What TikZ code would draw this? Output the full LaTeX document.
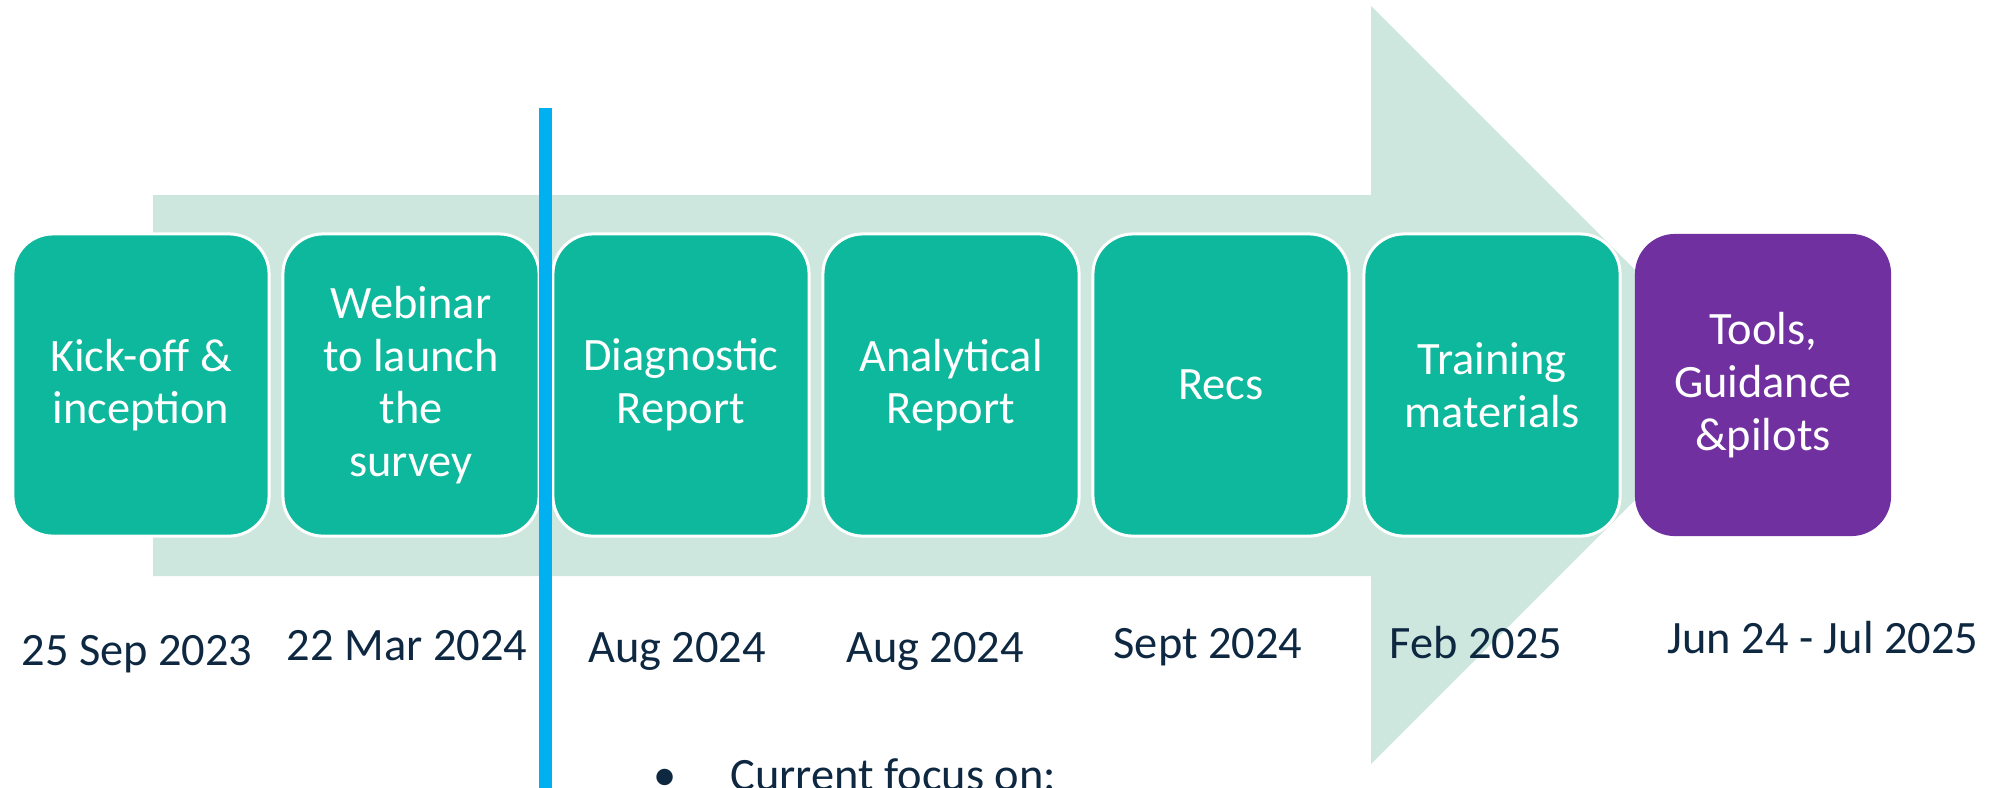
\documentclass[tikz,border=0pt]{standalone}
\usepackage{fontspec}
\setmainfont{Carlito}
\definecolor{arrowgreen}{HTML}{CDE6DE}
\definecolor{phaseteal}{HTML}{0DB89D}
\definecolor{goalpurple}{HTML}{7030A0}
\definecolor{nowblue}{HTML}{00B0F0}
\definecolor{datenavy}{HTML}{0E2841}
\tikzset{
  phase/.style={rectangle,rounded corners=0.4cm,fill=phaseteal,draw=white,line width=0.03cm,
    minimum width=2.56cm,minimum height=3.02cm,text=white,align=center,
    font=\fontsize{13.2pt}{15pt}\selectfont},
  goal/.style={phase,fill=goalpurple,draw=none},
  when/.style={anchor=base,text=datenavy,font=\fontsize{13.2pt}{15pt}\selectfont}
}
\begin{document}
\begin{tikzpicture}[x=0.01cm,y=-0.01cm]
    \useasboundingbox (0,0) rectangle (1998,787);
    \fill[arrowgreen] (153,195) -- (1371,195) -- (1371,6) -- (1750,385) -- (1371,764) -- (1371,576) -- (153,576) -- cycle;
    \path (141,385) node[phase](kickoff){Kick-off \&\\inception}
          (411,385) node[phase](webinar){Webinar\\to launch\\the\\survey}
          (681,385) node[phase](diag){Diagnostic\\Report}
          (951,385) node[phase](anal){Analytical\\Report}
          (1221,385) node[phase](recs){Recs}
          (1492,385) node[phase](train){Training\\materials}
          (1763,385) node[goal](tools){Tools,\\Guidance\\\&pilots};
    \path (137,665) node[when](d1){25 Sep 2023}
          (407,660) node[when](d2){22 Mar 2024}
          (677,662) node[when](d3){Aug 2024}
          (935,662) node[when](d4){Aug 2024}
          (1208,658) node[when](d5){Sept 2024}
          (1476,658) node[when](d6){Feb 2025}
          (1823,653) node[when](d7){Jun 24 - Jul 2025};
    \coordinate (nowtop) at (545.5,108);
    \coordinate (nowbot) at (545.5,800);
    \draw[nowblue,line width=0.13cm] (nowtop) -- (nowbot);
    \path (665,790) node[when](bullet){•}
          (718,790) node[when,anchor=base west](focus){Current focus on:};
  \end{tikzpicture}
\end{document}
